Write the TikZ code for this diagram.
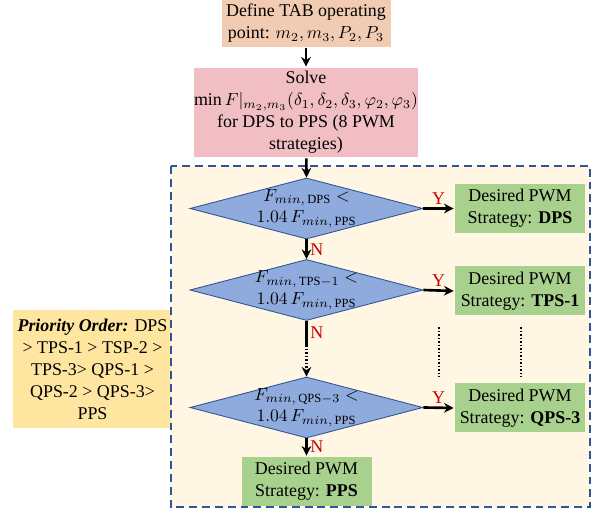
\documentclass[tikz,border=0pt]{standalone}
\usepackage{fontspec}
\setmainfont{Liberation Serif}
\usetikzlibrary{shapes.geometric,arrows.meta}
\definecolor{peach}{RGB}{242,204,178}
\definecolor{rose}{RGB}{240,190,195}
\definecolor{cream}{RGB}{255,247,228}
\definecolor{frameblue}{RGB}{47,85,151}
\definecolor{decblue}{RGB}{143,170,220}
\definecolor{leaf}{RGB}{169,209,142}
\definecolor{gold}{RGB}{255,230,160}
\definecolor{mark}{RGB}{200,0,0}
\begin{document}
\begin{tikzpicture}[font=\fontsize{10.2}{12.5}\selectfont, line width=1.5pt, >={Stealth[length=5.5pt,width=5.5pt]},
  startbox/.style={fill=peach, align=center, inner sep=0pt, minimum width=3.38cm, minimum height=0.94cm},
  solvebox/.style={fill=rose, align=center, inner sep=0pt, minimum width=4.48cm, minimum height=1.78cm},
  decision/.style={diamond, draw=frameblue, line width=0.5pt, fill=decblue, inner sep=0pt, minimum width=4.66cm, minimum height=1.22cm},
  dtext/.style={align=center, inner sep=0pt},
  result/.style={fill=leaf, align=center, inner sep=0pt, minimum width=2.6cm, minimum height=0.98cm},
  prio/.style={fill=gold, align=center, inner sep=0pt, minimum width=3.18cm, minimum height=2.36cm},
  frame/.style={draw=frameblue, fill=cream, line width=1.3pt, dash pattern=on 4.5pt off 2.8pt},
  yes/.style={above, text=mark, inner sep=1.5pt},
  no/.style={right, text=mark, inner sep=1.5pt}]
  \useasboundingbox (0,0) rectangle (11.94,-10.22);

  \node[prio] (prio) at (1.85,-7.38) {\textbf{\textit{Priority Order:}} DPS\\> TPS-1 > TSP-2 >\\TPS-3> QPS-1 >\\QPS-2 > QPS-3>\\PPS};
  \draw[frame] (3.42,-3.32) rectangle (11.8,-10.14);

  \node[startbox] (define) at (6.12,-0.47) {Define TAB operating\\point: $m_2, m_3, P_2, P_3$};
  \node[solvebox] (solve) at (6.12,-2.25) {Solve\\$\min F|_{m_2,m_3}(\delta_1,\delta_2,\delta_3,\varphi_2,\varphi_3)$\\for DPS to PPS (8 PWM\\strategies)};

  % decisions
  \node[decision] (dps) at (6.13,-4.17) {};
  \node[dtext] (dpstext) at (dps) {$F_{min,\,\mathrm{DPS}} <$\\$1.04\,F_{min,\,\mathrm{PPS}}$};
  \node[decision] (tps) at (6.13,-5.8) {};
  \node[dtext] (tpstext) at (tps) {$F_{min,\,\mathrm{TPS}-1} <$\\$1.04\,F_{min,\,\mathrm{PPS}}$};
  \node[decision] (qps) at (6.13,-8.15) {};
  \node[dtext] (qpstext) at (qps) {$F_{min,\,\mathrm{QPS}-3} <$\\$1.04\,F_{min,\,\mathrm{PPS}}$};

  % outcomes
  \node[result] (rdps) at (10.4,-4.17) {Desired PWM\\Strategy: \textbf{DPS}};
  \node[result] (rtps) at (10.4,-5.82) {Desired PWM\\Strategy: \textbf{TPS-1}};
  \node[result] (rqps) at (10.4,-8.16) {Desired PWM\\Strategy: \textbf{QPS-3}};
  \node[result] (rpps) at (6.13,-9.63) {Desired PWM\\Strategy: \textbf{PPS}};

  \draw[->] (define) -- (solve);
  \draw[->] (solve) -- (dps.north);
  \draw[->] (dps.east) -- node[yes] {Y} (rdps.west);
  \draw[->] (tps.east) -- node[yes] {Y} (rtps.west);
  \draw[->] (qps.east) -- node[yes] {Y} (rqps.west);
  \draw[->] (dps.south) -- node[no] {N} (tps.north);
  \coordinate (gap) at (6.13,-6.9);
  \draw (tps.south) -- node[no] {N} (gap);
  \draw[->, dash pattern=on 1pt off 1pt] (gap) -- (qps.north);
  \draw[->] (qps.south) -- node[no] {N} (rpps);

  % skipped strategies
  \coordinate (skipA) at (8.78,-6.54);
  \coordinate (skipB) at (10.42,-6.54);
  \draw[line width=1.1pt, dash pattern=on 1pt off 1pt] (skipA) -- ++(0,-1);
  \draw[line width=1.1pt, dash pattern=on 1pt off 1pt] (skipB) -- ++(0,-1);
\end{tikzpicture}
\end{document}
